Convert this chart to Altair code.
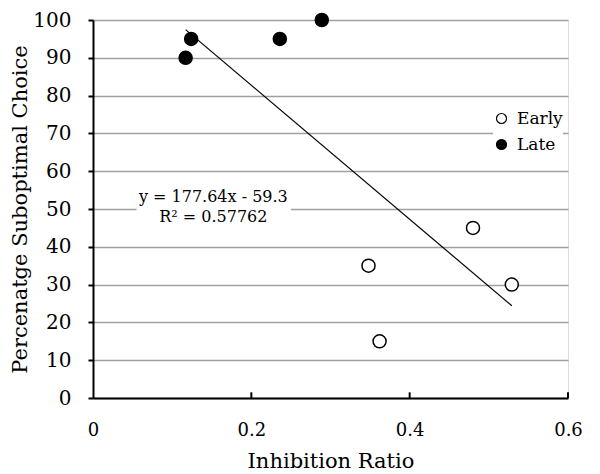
import altair as alt
import pandas as pd

# data
ratio = [0.117, 0.124, 0.236, 0.289, 0.348, 0.362, 0.480, 0.529]
pct = [90, 95, 95, 100, 35, 15, 45, 30]
group = ["Late", "Late", "Late", "Late", "Early", "Early", "Early", "Early"]
groups = ["Early", "Late"]
x_ticks = [0, 0.2, 0.4, 0.6]
y_ticks = [0, 10, 20, 30, 40, 50, 60, 70, 80, 90, 100]
eq_text = ["y = 177.64x - 59.3", "R\u00b2 = 0.57762"]
eq_pos = [0.152, 53.1]
eq_box = [0.055, 0.25, 45.5, 56.5]

FONT = "DejaVu Serif"
W, H = 475, 378

df = pd.DataFrame({"x": ratio, "y": pct, "g": group})
eq_df = pd.DataFrame({"x": [eq_pos[0]], "y": [eq_pos[1]], "t": ["\n".join(eq_text)]})
box_df = pd.DataFrame({"x": [eq_box[0]], "x2": [eq_box[1]], "y": [eq_box[2]], "y2": [eq_box[3]]})
tick_df = pd.DataFrame({"x": x_ticks[1:]})

xscale = alt.Scale(domain=[0, 0.6], nice=False)
yscale = alt.Scale(domain=[0, 100], nice=False)

xaxis = alt.Axis(
    values=x_ticks, format="~g", grid=False, title="Inhibition Ratio",
    domainColor="black", domainWidth=2, tickSize=0, labelPadding=23,
    labelFontSize=18, labelFont=FONT, labelColor="black", labelFlush=False,
    labelOverlap=False,
    titleFontSize=21, titleFont=FONT, titleFontWeight="normal", titleColor="black",
    titleY=69, titleBaseline="alphabetic",
)
yaxis = alt.Axis(
    values=y_ticks, grid=True, gridColor="#a0a0a0", gridWidth=1.3,
    title="Percenatge Suboptimal Choice", labelOverlap=False,
    domainColor="black", domainWidth=2, tickColor="black", tickWidth=2, tickSize=5,
    labelPadding=17, labelFontSize=20, labelFont=FONT, labelColor="black",
    titleFontSize=21, titleFont=FONT, titleFontWeight="normal", titleColor="black",
    titleX=-73, titleY=H / 2, titleAngle=270, titleAlign="center", titleBaseline="middle",
)


def X(field="x"):
    return alt.X(f"{field}:Q", scale=xscale, axis=xaxis)


def Y(field="y"):
    return alt.Y(f"{field}:Q", scale=yscale, axis=yaxis)


box = alt.Chart(box_df).mark_rect(color="white").encode(
    x=X(), x2="x2:Q", y=Y(), y2="y2:Q",
)
eq = alt.Chart(eq_df).mark_text(
    font=FONT, fontSize=16, lineBreak="\n", lineHeight=20, color="black",
    align="center", baseline="middle",
).encode(x=X(), y=Y(), text="t:N")

ticks = alt.Chart(tick_df).mark_rule(color="black", strokeWidth=2).encode(
    x=X(), y=alt.Y(datum=0, scale=yscale, axis=yaxis), y2=alt.datum(1.5)
)

trend = alt.Chart(df).transform_regression("x", "y").mark_line(
    color="black", strokeWidth=1.2
).encode(x=X(), y=Y())

points = alt.Chart(df).mark_point(
    shape="circle", filled=True, size=170, stroke="black", strokeWidth=1.5, opacity=1
).encode(
    x=X(), y=Y(),
    fill=alt.Fill("g:N", scale=alt.Scale(domain=groups, range=["white", "black"]),
                  legend=alt.Legend(
                      title=None, orient="none", legendX=400, legendY=90,
                      symbolType="circle", symbolSize=100,
                      symbolStrokeColor="black", symbolStrokeWidth=1.2,
                      labelFont=FONT, labelFontSize=17, labelColor="black",
                      labelOffset=7, rowPadding=8, padding=0, fillColor="white",
                  )),
)

chart = alt.layer(box, eq, ticks, trend, points).properties(
    width=W, height=H,
    autosize=alt.AutoSizeParams(type="none"),
    padding={"left": 85, "top": 12, "right": 20, "bottom": 74},
).configure_view(stroke=None).configure(background="white")

chart.save("out.html", embed_options={"renderer": "svg", "actions": False})
